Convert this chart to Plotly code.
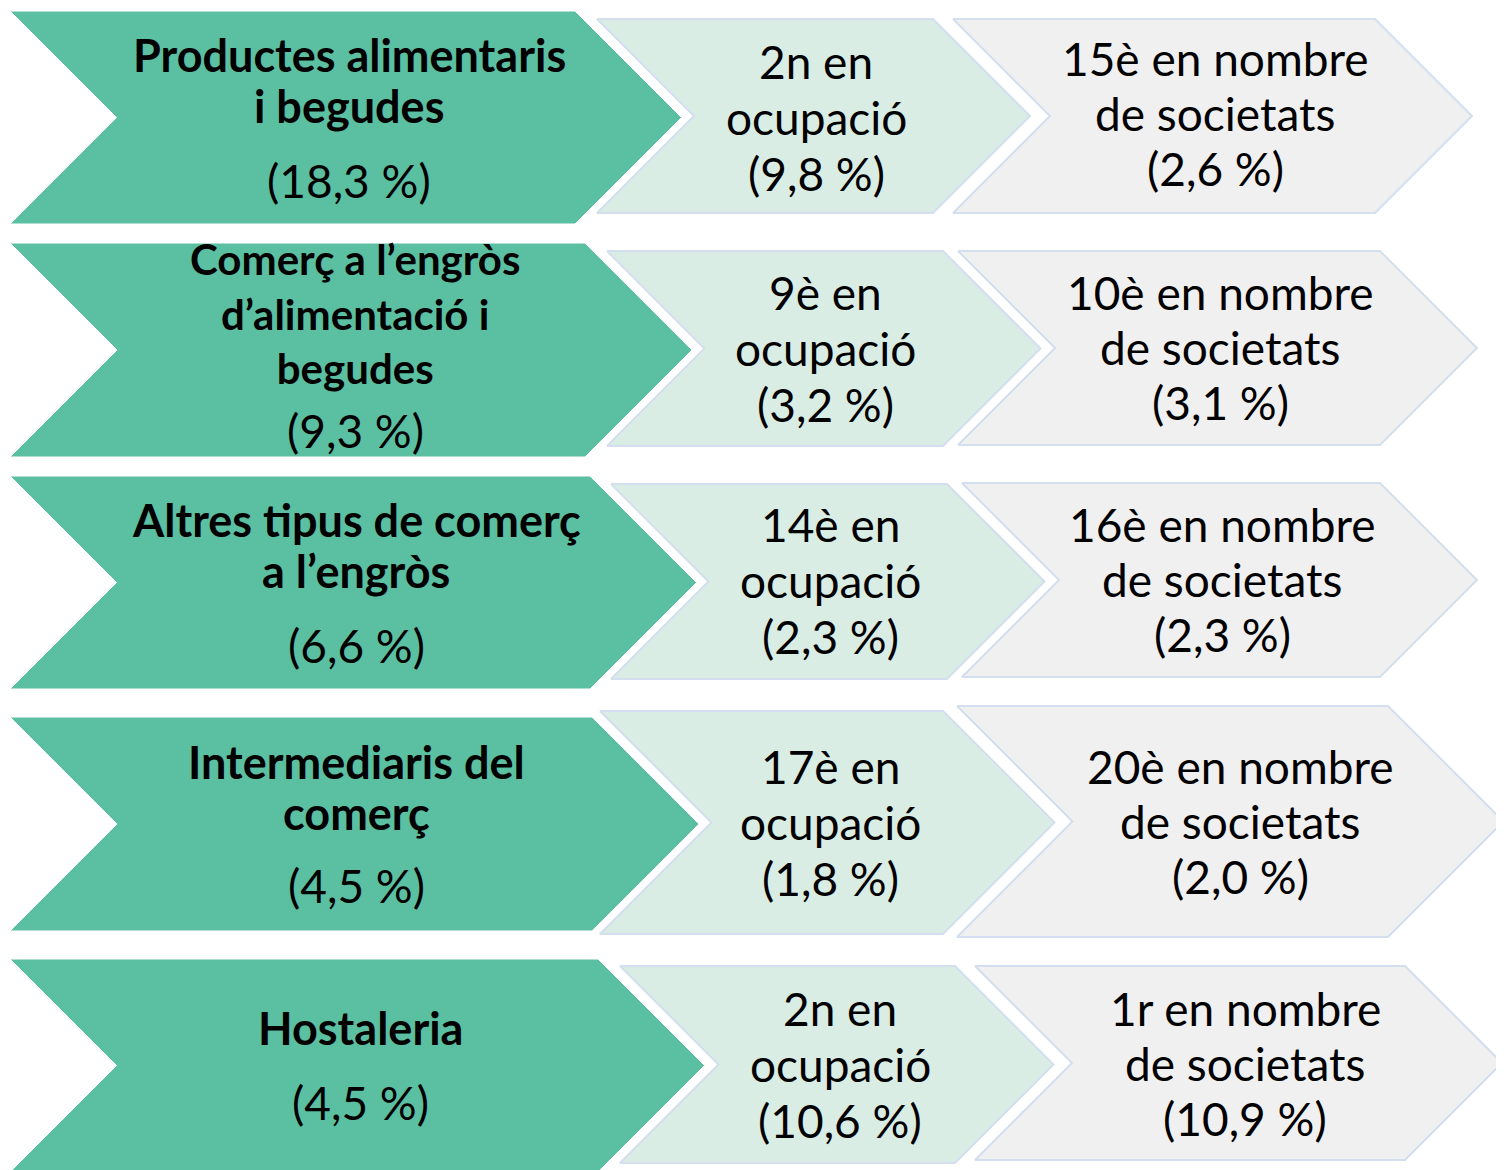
import plotly.graph_objects as go

# ---- data ----
sectors = ["Productes alimentaris\ni begudes",
           "Comerç a l’engròs\nd’alimentació i\nbegudes",
           "Altres tipus de comerç\na l’engròs",
           "Intermediaris del\ncomerç",
           "Hostaleria"]
sector_share = ["(18,3 %)", "(9,3 %)", "(6,6 %)", "(4,5 %)", "(4,5 %)"]
employment_rank = ["2n en\nocupació\n(9,8 %)", "9è en\nocupació\n(3,2 %)", "14è en\nocupació\n(2,3 %)",
                   "17è en\nocupació\n(1,8 %)", "2n en\nocupació\n(10,6 %)"]
companies_rank = ["15è en nombre\nde societats\n(2,6 %)", "10è en nombre\nde societats\n(3,1 %)",
                  "16è en nombre\nde societats\n(2,3 %)", "20è en nombre\nde societats\n(2,0 %)",
                  "1r en nombre\nde societats\n(10,9 %)"]

# ---- layout geometry (page pixels) ----
W, H = 1504, 1170
OFF = 8  # default page body margin
green_geom = [(10, 575, 11, 224), (10, 585, 243, 457), (10, 590, 476, 689), (10, 592, 717, 931), (10, 598, 959, 1172)]
light_geom = [(597, 933, 19, 213), (607, 943, 251, 446), (611, 947, 484, 679), (600, 943, 711, 934), (620, 955, 966, 1163)]
gray_geom = [(953, 1375, 19, 213), (958, 1380, 251, 445), (962, 1380, 483, 677), (957, 1388, 706, 937), (975, 1405, 966, 1160)]

title_pos = [(349, 80), (355, 313), (356, 545), (356, 787), (360, 1028)]
share_pos = [(349, 180), (355, 430), (356, 645), (356, 885), (360, 1102)]
emp_pos = [(816, 117), (825, 348), (830, 580), (830, 822), (840, 1064)]
comp_pos = [(1215, 113), (1220, 347), (1222, 579), (1240, 821), (1245, 1063)]

GREEN, LIGHT, GRAY, EDGE = "#5BBFA2", "#D9EDE4", "#F0F0F0", "#D3DEEF"
FONT = "Lato, 'Open Sans', sans-serif"

fig = go.Figure()


def chevron(g, fill, edge, ew):
    xl, xr, top, bot = g
    d = (bot - top) / 2
    mid = (top + bot) / 2
    xs = [xl, xr, xr + d, xr, xl, xl + d, xl]
    ys = [top, top, mid, bot, bot, mid, top]
    fig.add_trace(go.Scatter(x=xs, y=ys, mode="lines", fill="toself", fillcolor=fill,
                             line=dict(color=edge, width=ew), hoverinfo="skip", showlegend=False))


for i in range(len(sectors)):
    chevron(green_geom[i], GREEN, "#FFFFFF", 1)
    chevron(light_geom[i], LIGHT, EDGE, 2)
    chevron(gray_geom[i], GRAY, EDGE, 2)


def text_block(text, pos, size, spacing, bold=False):
    lines = text.split("\n")
    n = len(lines)
    for k, ln in enumerate(lines):
        y = pos[1] + (k - (n - 1) / 2) * spacing
        t = f"<b>{ln}</b>" if bold else ln
        fig.add_annotation(x=pos[0], y=y, text=t, showarrow=False, xanchor="center", yanchor="middle",
                           font=dict(family=FONT, size=size, color="#000000"))


def text_wrapped(text, pos, size, bold=False):
    lines = text.split("\n")
    t = "<br>".join(f"<b>{ln}</b>" if bold else ln for ln in lines)
    fig.add_annotation(x=pos[0], y=pos[1], text=t, showarrow=False, xanchor="center", yanchor="middle",
                       font=dict(family=FONT, size=size, color="#000000"))


for i in range(len(sectors)):
    if sectors[i].count("\n") == 2:
        text_wrapped(sectors[i], title_pos[i], 42, bold=True)
    else:
        text_block(sectors[i], title_pos[i], 45, 51, bold=True)
    text_block(sector_share[i], share_pos[i], 46, 55)
    text_block(employment_rank[i], emp_pos[i], 46, 56)
    text_block(companies_rank[i], comp_pos[i], 46, 55)

fig.update_layout(width=W - OFF, height=H - OFF, margin=dict(l=0, r=0, t=0, b=0),
                  paper_bgcolor="white", plot_bgcolor="white",
                  xaxis=dict(range=[OFF, W], visible=False, fixedrange=True),
                  yaxis=dict(range=[H, OFF], visible=False, fixedrange=True))

fig.write_html("out.html")
